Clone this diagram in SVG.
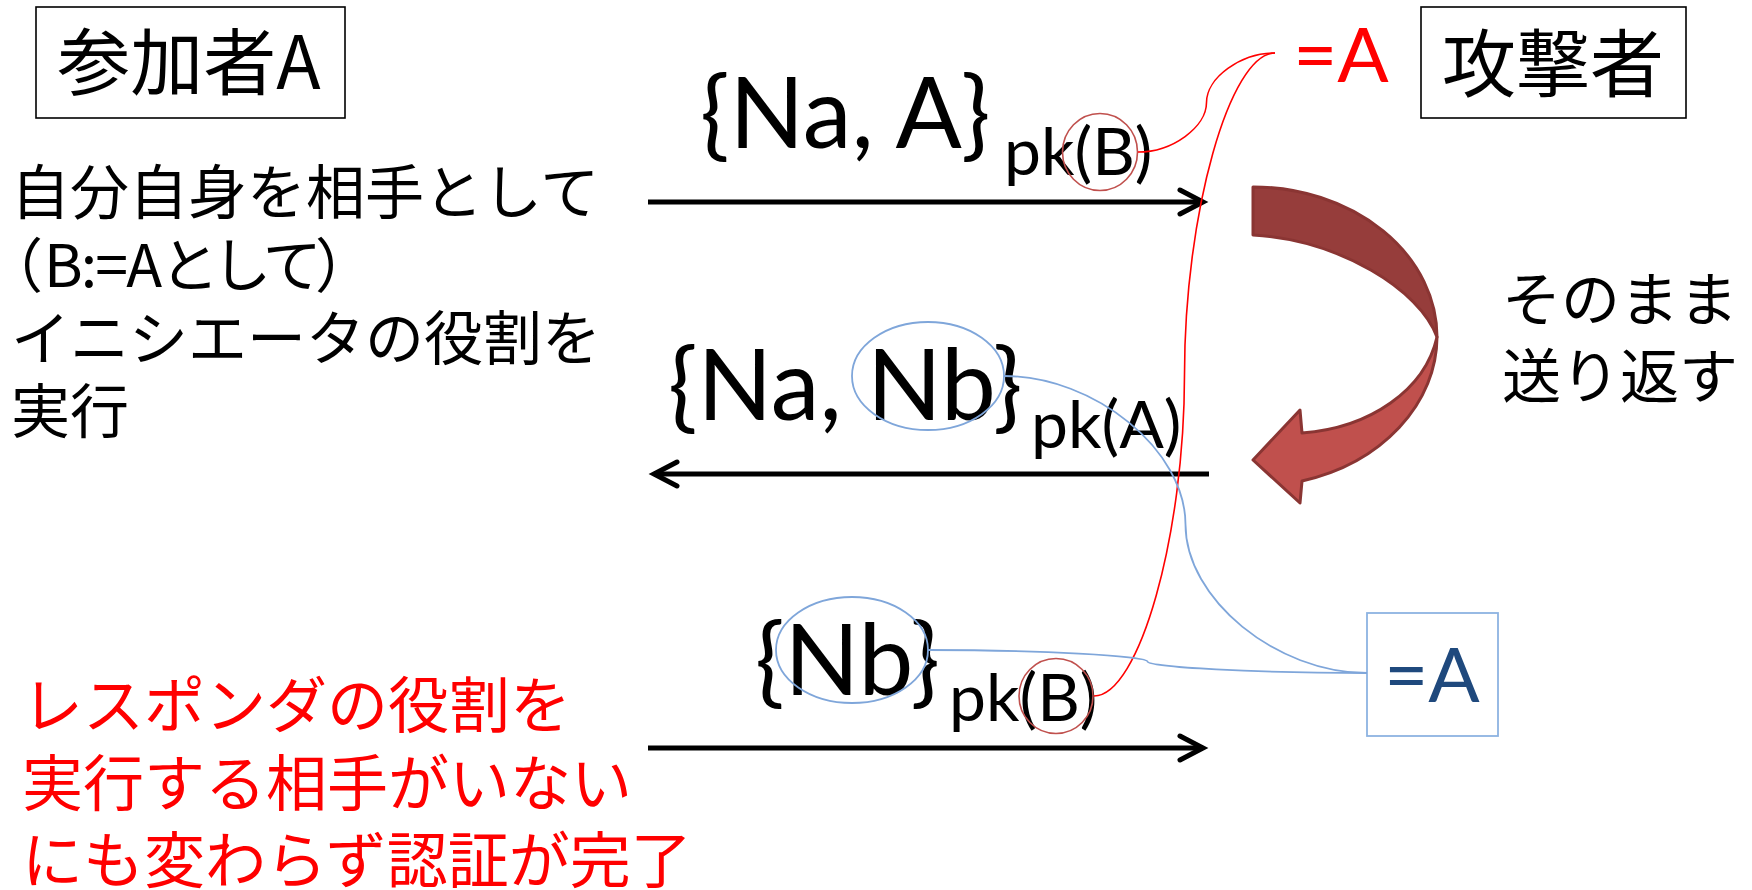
<svg xmlns="http://www.w3.org/2000/svg" width="1752" height="890" viewBox="0 0 1752 890">
  <style>
    .jp { font-family: "Noto Sans CJK JP", "Noto Sans", sans-serif; }
    .lat { font-family: Lato, "Noto Sans", "Liberation Sans", sans-serif; }
    .box { fill: #ffffff; stroke: #000000; stroke-width: 1.6; }
    .msg { fill: none; stroke: #000000; stroke-width: 5; marker-end: url(#chev); }
    .hl-red { fill: none; stroke: #C0504D; stroke-width: 1.6; }
    .hl-blue { fill: none; stroke: #7FA6DA; stroke-width: 1.8; }
    .link-red { fill: none; stroke: #FF0000; stroke-width: 1.6; }
    .link-blue { fill: none; stroke: #7FA6DA; stroke-width: 1.8; }
    .main { font-size: 98px; fill: #000000; }
    .sub { font-size: 66px; fill: #000000; }
    .note { font-size: 59px; fill: #000000; }
    .warn { font-size: 61px; fill: #FF0000; }
  </style>
  <defs>
    <!-- open chevron head used by the message arrows -->
    <marker id="chev" markerUnits="userSpaceOnUse" markerWidth="40" markerHeight="40" viewBox="-30 -20 40 40" refX="0" refY="0" orient="auto">
      <path d="M-23,-12 L0,0 L-23,12" fill="none" stroke="#000000" stroke-width="5" stroke-linecap="round" stroke-linejoin="miter"/>
    </marker>
  </defs>

  <rect width="1752" height="890" fill="#ffffff"/>

  <!-- participants -->
  <g id="participant-a">
    <rect class="box" x="36" y="7" width="309" height="111"/>
    <text class="jp" x="189" y="89" font-size="73" text-anchor="middle">参加者A</text>
  </g>
  <g id="attacker">
    <rect class="box" x="1421" y="7" width="265" height="111"/>
    <text class="jp" x="1553" y="91" font-size="74" text-anchor="middle">攻撃者</text>
  </g>

  <!-- explanatory notes -->
  <g id="note-initiator" class="jp note">
    <text x="11" y="214">自分自身を相手として</text>
    <text y="287"><tspan x="-16">（</tspan><tspan x="44" textLength="118" lengthAdjust="spacing">B:=A</tspan><tspan x="160" textLength="214" lengthAdjust="spacing">として）</tspan></text>
    <text x="11" y="360">イニシエータの役割を</text>
    <text x="11" y="433">実行</text>
  </g>
  <g id="note-responder" class="jp warn">
    <text x="22" y="728">レスポンダの役割を</text>
    <text x="22" y="806">実行する相手がいない</text>
    <text x="22" y="883">にも変わらず認証が完了</text>
  </g>

  <!-- message labels -->
  <g id="msg1-label" class="lat">
    <text class="main" x="700" y="148">{Na, A}</text>
    <text class="sub" x="1004" y="175">pk(B)</text>
  </g>
  <g id="msg2-label" class="lat">
    <text class="main" x="668" y="420">{Na, Nb}</text>
    <text class="sub" x="1031" y="448">pk(A)</text>
  </g>
  <g id="msg3-label" class="lat">
    <text class="main" x="755" y="695">{Nb}</text>
    <text class="sub" x="949" y="721">pk(B)</text>
  </g>

  <!-- reflection arrow on the attacker side -->
  <g id="reflect">
    <path d="M1253,187 A184,150 0 0 1 1437,337 C1420,290 1340,240 1253,235 Z" fill="#963D3B" stroke="#8A3533" stroke-width="3" stroke-linejoin="round"/>
    <path d="M1437,337 A184,150 0 0 1 1302,481 L1300,503 L1253,460 L1300,410 L1302,433 C1370,428 1425,390 1437,337 Z" fill="#C0504D" stroke="#8A3533" stroke-width="3" stroke-linejoin="round"/>
    <text class="jp note" x="1502" y="321">そのまま</text>
    <text class="jp note" x="1502" y="398">送り返す</text>
  </g>

  <!-- identity annotations -->
  <g id="alias-red">
    <text class="lat" x="1341" y="82" font-size="76" fill="#FF0000" text-anchor="middle">=A</text>
  </g>
  <g id="alias-blue">
    <rect x="1367" y="613" width="131" height="123" fill="#ffffff" stroke="#8DB3E2" stroke-width="1.8"/>
    <text class="lat" x="1432" y="702" font-size="76" fill="#1F497D" text-anchor="middle">=A</text>
  </g>

  <!-- highlight rings -->
  <g id="highlights">
    <ellipse class="hl-red" cx="1100" cy="152" rx="37.5" ry="38.5"/>
    <ellipse class="hl-red" cx="1056" cy="696" rx="37" ry="37.5"/>
    <ellipse class="hl-blue" cx="928" cy="376" rx="76" ry="54"/>
    <ellipse class="hl-blue" cx="852" cy="650" rx="76" ry="53"/>
  </g>

  <g id="connectors">
    <path class="msg" d="M648,202 L1203,202"/>
    <path class="msg" d="M1209,474 L654,474"/>
    <path class="msg" d="M648,748 L1203,748"/>
    <path class="link-red" d="M1138,152 C1172.25,152 1206.5,127.25 1206.5,102.5 C1206.5,77.75 1240.75,53 1275,53"/>
    <path class="link-red" d="M1094,696 C1139.25,696 1184.5,535.25 1184.5,374.5 C1184.5,213.75 1229.75,53 1275,53"/>
    <path class="link-blue" d="M1004,376 C1094.75,376 1185.5,450.25 1185.5,524.5 C1185.5,598.75 1276.25,673 1367,673"/>
    <path class="link-blue" d="M928,650 C1037.75,650 1147.5,655.75 1147.5,661.5 C1147.5,667.25 1257.25,673 1367,673"/>
  </g>
</svg>
